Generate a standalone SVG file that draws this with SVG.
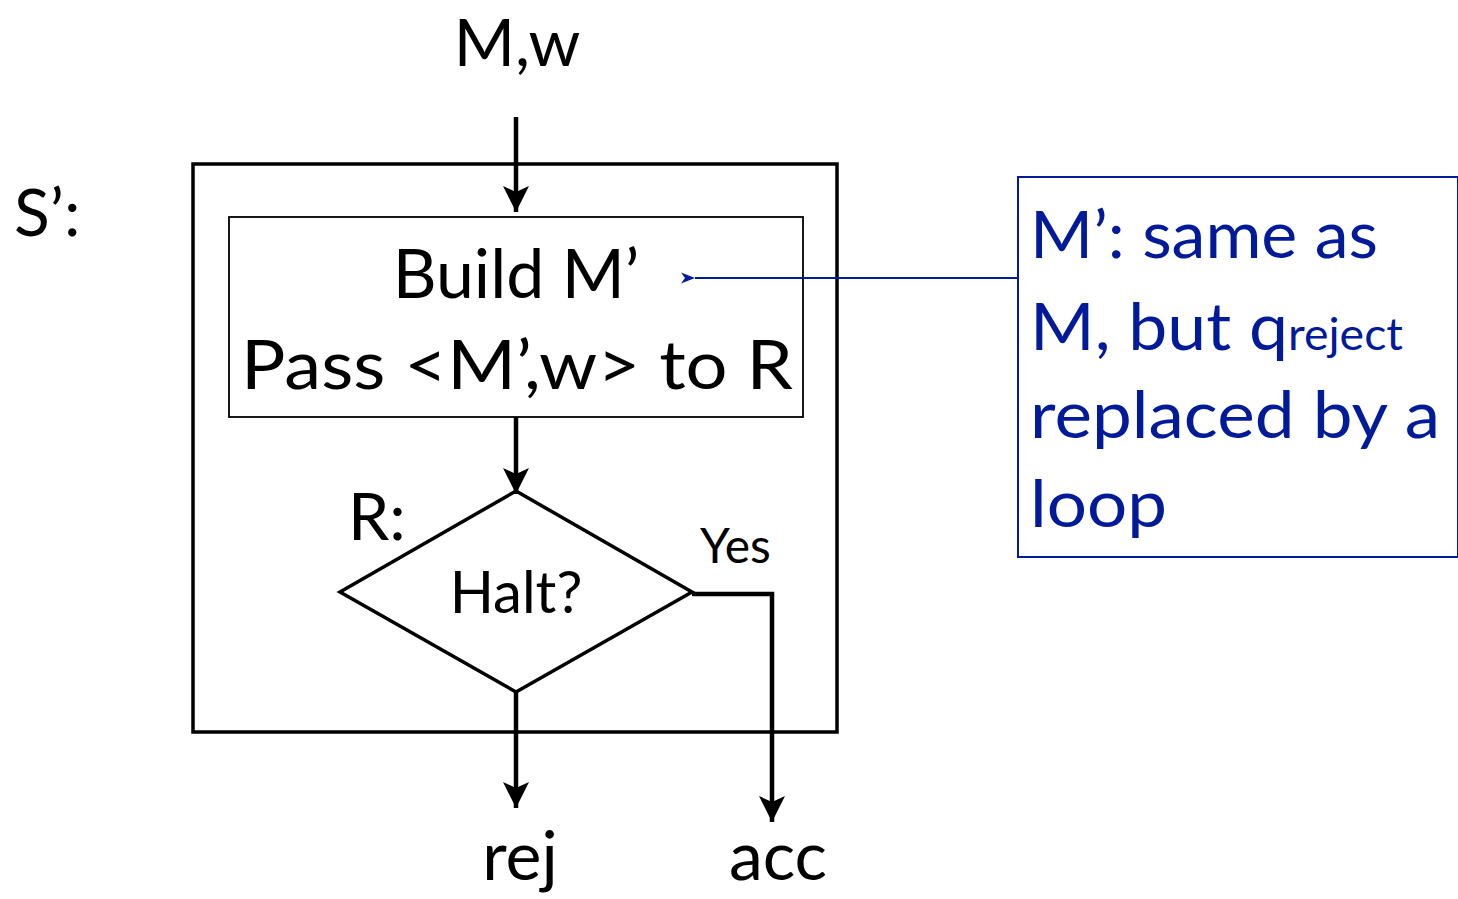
<svg xmlns="http://www.w3.org/2000/svg" width="1458" height="899" viewBox="0 0 1458 899">
<style>
text{font-family:Lato,"Open Sans","Liberation Sans",sans-serif;fill:#000}
.big{font-size:68px}
.blue{fill:#001A9A;font-size:66px}
.k{stroke:#000;fill:none;stroke-width:4.5}
</style>
<defs>
<marker id="ah" markerWidth="28" markerHeight="28" refX="26" refY="14" orient="auto" markerUnits="userSpaceOnUse" viewBox="0 0 28 28">
<path d="M0,1 L26,14 L0,27 L6,14 z" fill="#000"/>
</marker>
<marker id="ahb" markerWidth="14" markerHeight="12" refX="0" refY="6" orient="auto" markerUnits="userSpaceOnUse" viewBox="0 0 14 12">
<path d="M14,0.5 L0,6 L14,11.5 L10,6 z" fill="#001A9A"/>
</marker>
</defs>
<rect width="1458" height="899" fill="#fff"/>
<g id="outer">
<rect x="193" y="164" width="644" height="568" fill="none" stroke="#000" stroke-width="3.5"/>
<text x="14" y="236" font-size="66">S’:</text>
</g>
<g id="input"><text x="517" y="66" font-size="66" text-anchor="middle">M,w</text></g>
<g id="build">
<rect x="229" y="217" width="574" height="200" fill="none" stroke="#000" stroke-width="1.8"/>
<text x="516" y="298" class="big" text-anchor="middle">Build M’</text>
<text x="517" y="389" class="big" text-anchor="middle" textLength="552" lengthAdjust="spacingAndGlyphs">Pass &lt;M’,w&gt; to R</text>
</g>
<g id="halt">
<polygon points="516,491 692,592 516,692 340,592" fill="none" stroke="#000" stroke-width="3.5"/>
<text x="348" y="540" font-size="66">R:</text>
<text x="516" y="613" font-size="58" text-anchor="middle">Halt?</text>
<text x="700" y="563" font-size="48">Yes</text>
</g>
<g id="rej"><text x="520" y="880" class="big" text-anchor="middle">rej</text></g>
<g id="acc"><text x="778" y="880" class="big" text-anchor="middle">acc</text></g>
<g id="note">
<rect x="1018" y="177" width="440" height="380" fill="none" stroke="#001A9A" stroke-width="2"/>
<text x="1030" y="258" class="blue" textLength="348" lengthAdjust="spacingAndGlyphs">M’: same as</text>
<text x="1030" y="350" class="blue" textLength="373" lengthAdjust="spacingAndGlyphs">M, but q<tspan font-size="44">reject</tspan></text>
<text x="1030" y="438" class="blue" textLength="410" lengthAdjust="spacingAndGlyphs">replaced by a</text>
<text x="1030" y="527" class="blue" textLength="137" lengthAdjust="spacingAndGlyphs">loop</text>
</g>
<g id="connectors">
<line x1="516" y1="117" x2="516" y2="212" class="k" marker-end="url(#ah)"/>
<line x1="516" y1="417" x2="516" y2="494" class="k" marker-end="url(#ah)"/>
<line x1="516" y1="692" x2="516" y2="808" class="k" marker-end="url(#ah)"/>
<polyline points="692,594 772,594 772,822" class="k" marker-end="url(#ah)"/>
<line x1="1018" y1="278" x2="695" y2="278" stroke="#001A9A" stroke-width="1.8" marker-end="url(#ahb)"/>
</g>
</svg>
